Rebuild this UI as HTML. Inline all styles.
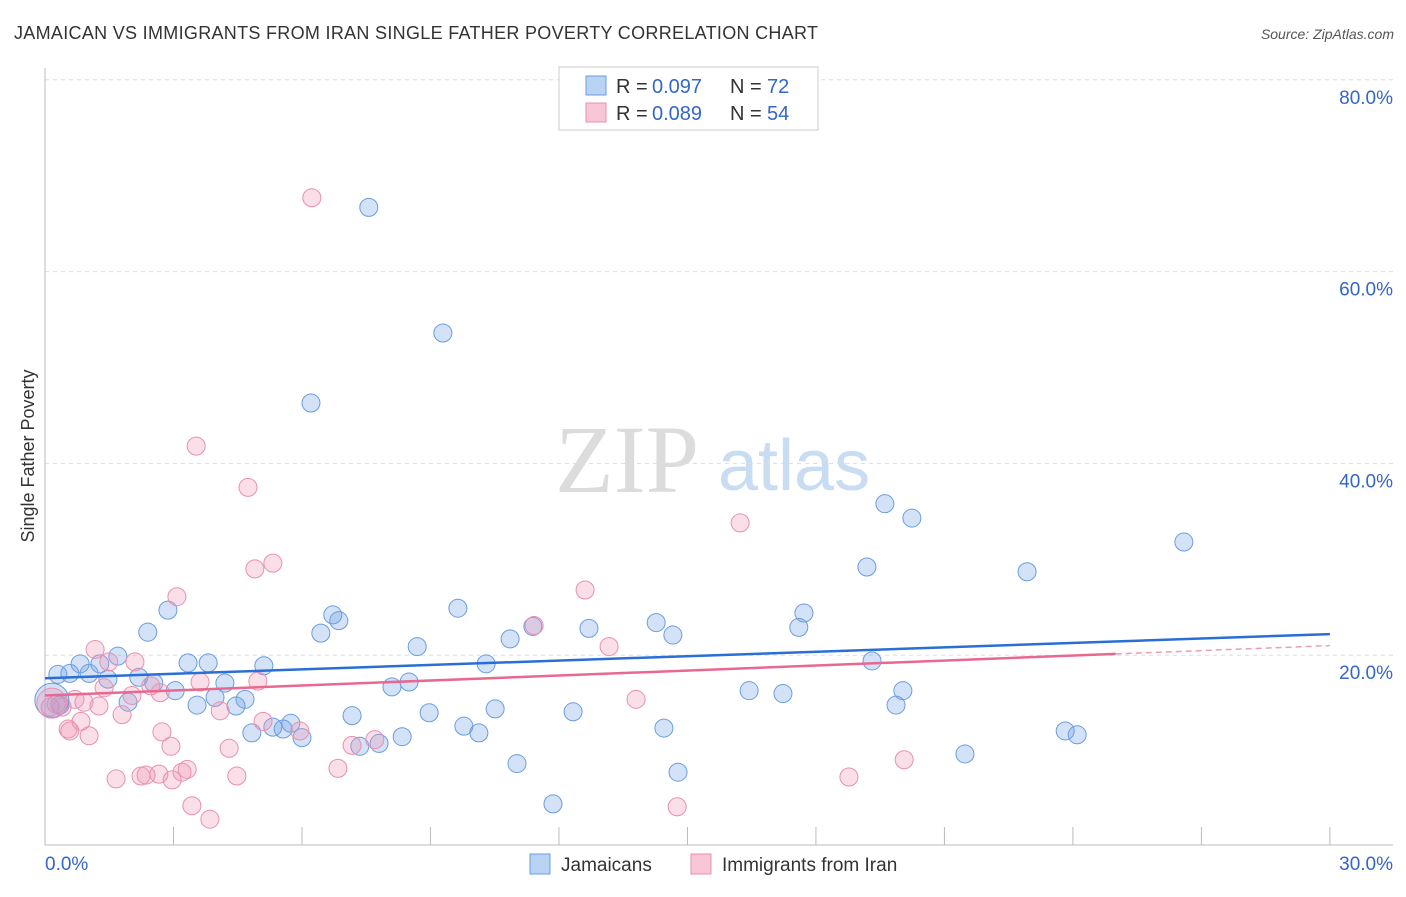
<!DOCTYPE html>
<html><head><meta charset="utf-8"><style>
body{margin:0;background:#fff;font-family:"Liberation Sans",sans-serif;}
</style></head><body>
<svg id="c" width="1406" height="892" xmlns="http://www.w3.org/2000/svg">
<text x="14" y="39" font-size="18" fill="#333" textLength="804">JAMAICAN VS IMMIGRANTS FROM IRAN SINGLE FATHER POVERTY CORRELATION CHART</text>
<text x="1394" y="39" font-size="14" fill="#555" font-style="italic" text-anchor="end">Source: ZipAtlas.com</text>
<text x="555" y="492" font-size="96" fill="#dcdcdc" font-family="Liberation Serif,serif">ZIP</text>
<text x="718" y="490" font-size="72" fill="#c8dcf2">atlas</text>
<text x="34" y="456" font-size="18" fill="#333" transform="rotate(-90 34 456)" text-anchor="middle">Single Father Poverty</text>
<g id="grid"></g><g id="pts"></g><g id="trend"></g>
<g>
<rect x="559" y="67" width="259" height="63" fill="#fff" stroke="#ccc"/>
<rect x="586" y="76" width="20" height="19" fill="#b9d3f4" stroke="#6a9de0"/>
<rect x="586" y="103" width="20" height="19" fill="#f8c6d6" stroke="#e890b0"/>
<text x="616" y="93" font-size="20" fill="#333">R =</text><text x="652" y="93" font-size="20" fill="#3366cc">0.097</text>
<text x="730" y="93" font-size="20" fill="#333">N =</text><text x="767" y="93" font-size="20" fill="#3366cc">72</text>
<text x="616" y="120" font-size="20" fill="#333">R =</text><text x="652" y="120" font-size="20" fill="#3366cc">0.089</text>
<text x="730" y="120" font-size="20" fill="#333">N =</text><text x="767" y="120" font-size="20" fill="#3366cc">54</text>
</g>
<g>
<rect x="530" y="854" width="20" height="20" fill="#b9d3f4" stroke="#6a9de0"/>
<text x="561" y="871" font-size="19" fill="#333">Jamaicans</text>
<rect x="691" y="854" width="20" height="20" fill="#f8c6d6" stroke="#e890b0"/>
<text x="722" y="871" font-size="19" fill="#333">Immigrants from Iran</text>
</g>
</svg>
<script>
const yTicks=[20,40,60,80];
const xTickLabels=["0.0%","30.0%"];
const blueX=[7.56,9.29,6.21,19.61,20.24,26.59,19.19,22.93,9.64,2.87,6.72,6.86,17.72,11.39,14.27,2.40,6.44,12.70,10.86,14.66,17.60,8.69,1.70,1.28,0.82,3.34,3.81,10.30,19.31,5.11,0.30,0.58,1.03,2.19,1.47,2.54,4.20,8.10,8.50,3.04,16.44,17.23,20.03,3.97,4.67,1.94,3.55,4.46,19.87,10.51,8.97,12.33,7.17,5.74,5.32,5.56,9.78,14.45,23.82,24.10,4.83,6.00,10.13,8.34,7.80,7.35,21.48,11.02,14.78,11.86,0.35];
const blueY=[66.7,53.6,46.3,35.8,34.3,31.8,29.2,28.7,24.9,24.7,24.2,23.6,24.4,23.0,23.4,22.4,22.3,22.8,21.7,22.1,22.9,20.9,19.9,19.1,19.1,19.2,19.2,19.1,19.4,18.9,18.0,18.1,18.1,17.7,17.5,17.1,17.1,16.7,17.2,16.3,16.3,16.0,16.3,15.6,15.4,15.1,14.8,14.7,14.8,14.4,14.0,14.1,13.7,12.9,12.5,12.3,12.6,12.4,12.1,11.7,11.9,11.4,11.9,11.5,10.8,10.5,9.7,8.7,7.8,4.5,14.8];
const pinkX=[6.23,3.53,4.74,16.23,5.32,4.90,12.61,3.08,11.42,1.17,1.49,2.10,13.17,2.47,3.62,4.97,1.38,2.03,2.69,0.70,0.91,1.26,13.80,0.26,0.40,0.12,5.09,0.84,1.80,4.09,5.95,0.54,1.03,2.73,2.94,4.30,7.17,7.70,20.06,6.84,3.32,3.20,1.66,2.24,2.36,2.66,2.97,4.48,18.77,3.43,3.85,14.76,0.58];
const pinkY=[67.7,41.8,37.5,33.8,29.6,29.0,26.8,26.1,23.1,20.6,19.3,19.3,20.9,16.8,17.2,17.3,16.6,15.8,16.1,15.4,15.1,14.7,15.4,14.9,14.6,14.6,13.1,13.1,13.8,14.2,12.1,12.3,11.6,12.0,10.5,10.3,10.6,11.2,9.1,8.2,8.1,7.8,7.1,7.4,7.5,7.6,7.0,7.4,7.3,4.3,2.9,4.2,12.1];
const bigBlue=[0.16,15.3], bigPink=[0.16,15.0];
const blueTrend=[17.6,22.2], pinkTrend=[15.8,21.0], pinkSolidEnd=25;
const sx=v=>45+v*42.83, sy=v=>847-v*9.59;
const NS="http://www.w3.org/2000/svg";
function mk(t,a,p){const e=document.createElementNS(NS,t);for(const k in a)e.setAttribute(k,a[k]);document.getElementById(p).appendChild(e);return e;}
yTicks.forEach(t=>{
 const l=mk('line',{x1:45,x2:1393,y1:sy(t),y2:sy(t),stroke:'#ddd','stroke-dasharray':'4,4'},'grid');
 
 
 const tx=mk('text',{x:1393,y:sy(t)+24,'font-size':19,fill:'#3366cc','text-anchor':'end'},'grid');tx.textContent=t.toFixed(1)+'%';
 
 
});
mk('line',{x1:45,x2:45,y1:68,y2:845,stroke:'#bbb'},'grid');
mk('line',{x1:45,x2:1393,y1:845,y2:845,stroke:'#bbb'},'grid');
for(let i=0;i<=10;i++){const x=sx(i*3);const tk=mk('line',{x1:x,x2:x,y1:827,y2:845,stroke:'#bbb'},'grid');
 
 }
const xl0=mk('text',{x:45,y:870,'font-size':19,fill:'#3366cc'},'grid');xl0.textContent=xTickLabels[0];


const xl1=mk('text',{x:1393,y:870,'font-size':19,fill:'#3366cc','text-anchor':'end'},'grid');xl1.textContent=xTickLabels[1];


function dot(x,y,r,blue){const c=mk('circle',{cx:sx(x),cy:sy(y),r:r,fill:blue?'rgba(110,160,230,0.3)':'rgba(240,150,180,0.3)',stroke:blue?'#6a9de0':'#e890b0','stroke-width':1},'pts');
 
 }
blueX.forEach((x,i)=>dot(x,blueY[i],9,true));
pinkX.forEach((x,i)=>dot(x,pinkY[i],9,false));
dot(bigBlue[0],bigBlue[1],17,true);dot(bigPink[0],bigPink[1],15,false);
const pt=x=>pinkTrend[0]+(pinkTrend[1]-pinkTrend[0])*x/30;
const bl=mk('line',{x1:sx(0),y1:sy(blueTrend[0]),x2:sx(30),y2:sy(blueTrend[1]),stroke:'#2a6fd6','stroke-width':2.5},'trend');


const pl=mk('line',{x1:sx(0),y1:sy(pt(0)),x2:sx(pinkSolidEnd),y2:sy(pt(pinkSolidEnd)),stroke:'#e8688f','stroke-width':2.5},'trend');


const pd=mk('line',{x1:sx(pinkSolidEnd),y1:sy(pt(pinkSolidEnd)),x2:sx(30),y2:sy(pt(30)),stroke:'#e8a0b8','stroke-width':1.5,'stroke-dasharray':'6,4'},'trend');


</script>
</body></html>
